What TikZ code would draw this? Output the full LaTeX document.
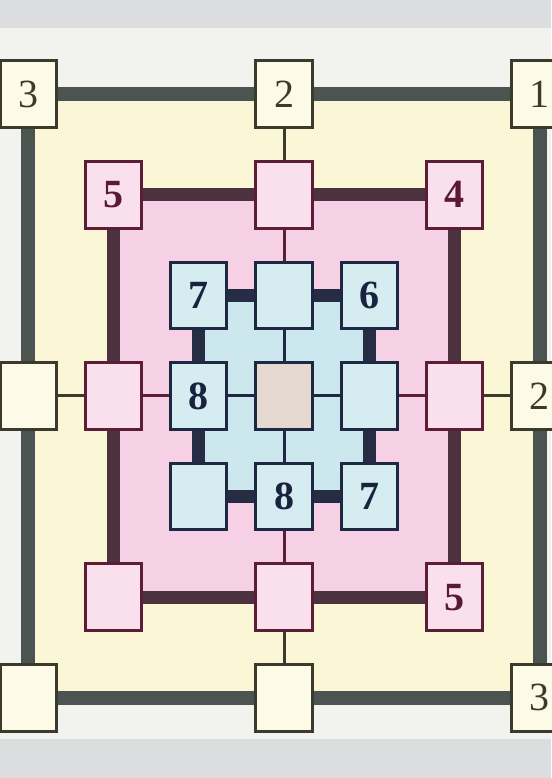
\documentclass[tikz,border=0pt]{standalone}
\usepackage{fontspec}
\setmainfont{Liberation Serif}
\usepackage{xcolor}
\usetikzlibrary{positioning,backgrounds}

\definecolor{pagebg}{RGB}{242,242,239}
\definecolor{bandgray}{RGB}{220,221,223}
\definecolor{creamfill}{RGB}{250,246,214}
\definecolor{oboxfill}{RGB}{253,251,232}
\definecolor{oline}{RGB}{58,58,45}
\definecolor{obarc}{RGB}{76,84,82}
\definecolor{otext}{RGB}{60,58,42}
\definecolor{pinkfill}{RGB}{246,208,228}
\definecolor{pboxfill}{RGB}{250,224,237}
\definecolor{pline}{RGB}{92,30,55}
\definecolor{pbarc}{RGB}{76,50,62}
\definecolor{ptext}{RGB}{90,25,55}
\definecolor{bluefill}{RGB}{204,232,238}
\definecolor{bboxfill}{RGB}{213,236,241}
\definecolor{bline}{RGB}{30,40,66}
\definecolor{bbarc}{RGB}{38,44,68}
\definecolor{btext}{RGB}{25,35,62}
\definecolor{centrefill}{RGB}{228,216,208}

\begin{document}
\begin{tikzpicture}[
  node distance=1.09cm and 0.91cm,
  cell/.style={draw, line width=3pt, minimum width=1.98cm, minimum height=2.34cm, inner sep=0pt, font=\fontsize{40}{40}\selectfont},
  ocell/.style={cell, draw=oline, fill=oboxfill, text=otext},
  pcell/.style={cell, draw=pline, fill=pboxfill, text=ptext, font=\fontsize{40}{40}\selectfont\bfseries},
  bcell/.style={cell, draw=bline, fill=bboxfill, text=btext, font=\fontsize{40}{40}\selectfont\bfseries},
  centrebox/.style={cell, draw=bline, fill=centrefill},
  obar/.style={line width=14pt, draw=obarc},
  pbar/.style={line width=13pt, draw=pbarc},
  bbar/.style={line width=13pt, draw=bbarc},
  olink/.style={line width=3pt, draw=oline},
  plink/.style={line width=3pt, draw=pline},
  blink/.style={line width=3pt, draw=bline}
]
  \useasboundingbox (-284pt,-382pt) rectangle (267pt,396pt);

  \node[centrebox] (c) {};
  \node[bcell, above=of c] (btm) {};
  \node[bcell, below=of c] (bbm) {8};
  \node[bcell, left=of c] (bml) {8};
  \node[bcell, right=of c] (bmr) {};
  \node[bcell, above left=of c] (btl) {7};
  \node[bcell, above right=of c] (btr) {6};
  \node[bcell, below left=of c] (bbl) {};
  \node[bcell, below right=of c] (bbr) {7};

  \node[pcell, above=of btm] (ptm) {};
  \node[pcell, below=of bbm] (pbm) {};
  \node[pcell, left=of bml] (pml) {};
  \node[pcell, right=of bmr] (pmr) {};
  \node[pcell, above left=of btl] (ptl) {5};
  \node[pcell, above right=of btr] (ptr) {4};
  \node[pcell, below left=of bbl] (pbl) {};
  \node[pcell, below right=of bbr] (pbr) {5};

  \node[ocell, above=of ptm] (otm) {2};
  \node[ocell, below=of pbm] (obm) {};
  \node[ocell, left=of pml] (oml) {};
  \node[ocell, right=of pmr] (omr) {2};
  \node[ocell, above left=of ptl] (otl) {3};
  \node[ocell, above right=of ptr] (otr) {1};
  \node[ocell, below left=of pbl] (obl) {};
  \node[ocell, below right=of pbr] (obr) {3};

  \begin{scope}[on background layer]
    \fill[pagebg] (-284pt,-382pt) rectangle (267pt,396pt);
    \fill[bandgray] (-284pt,368pt) rectangle (267pt,396pt);
    \fill[bandgray] (-284pt,-382pt) rectangle (267pt,-343pt);
    \fill[creamfill] (otl.center) rectangle (obr.center);
    \fill[pinkfill] (ptl.center) rectangle (pbr.center);
    \fill[bluefill] (btl.center) rectangle (bbr.center);
  \end{scope}

  \draw[obar] (otl) -- (otm);
  \draw[obar] (otm) -- (otr);
  \draw[obar] (otr) -- (omr);
  \draw[obar] (omr) -- (obr);
  \draw[obar] (obr) -- (obm);
  \draw[obar] (obm) -- (obl);
  \draw[obar] (obl) -- (oml);
  \draw[obar] (oml) -- (otl);

  \draw[pbar] (ptl) -- (ptm);
  \draw[pbar] (ptm) -- (ptr);
  \draw[pbar] (ptr) -- (pmr);
  \draw[pbar] (pmr) -- (pbr);
  \draw[pbar] (pbr) -- (pbm);
  \draw[pbar] (pbm) -- (pbl);
  \draw[pbar] (pbl) -- (pml);
  \draw[pbar] (pml) -- (ptl);

  \draw[bbar] (btl) -- (btm);
  \draw[bbar] (btm) -- (btr);
  \draw[bbar] (btr) -- (bmr);
  \draw[bbar] (bmr) -- (bbr);
  \draw[bbar] (bbr) -- (bbm);
  \draw[bbar] (bbm) -- (bbl);
  \draw[bbar] (bbl) -- (bml);
  \draw[bbar] (bml) -- (btl);

  \draw[blink] (c) -- (btm);
  \draw[blink] (c) -- (bbm);
  \draw[blink] (c) -- (bml);
  \draw[blink] (c) -- (bmr);
  \draw[plink] (btm) -- (ptm);
  \draw[plink] (bbm) -- (pbm);
  \draw[plink] (bml) -- (pml);
  \draw[plink] (bmr) -- (pmr);
  \draw[olink] (ptm) -- (otm);
  \draw[olink] (pbm) -- (obm);
  \draw[olink] (pml) -- (oml);
  \draw[olink] (pmr) -- (omr);
\end{tikzpicture}
\end{document}
